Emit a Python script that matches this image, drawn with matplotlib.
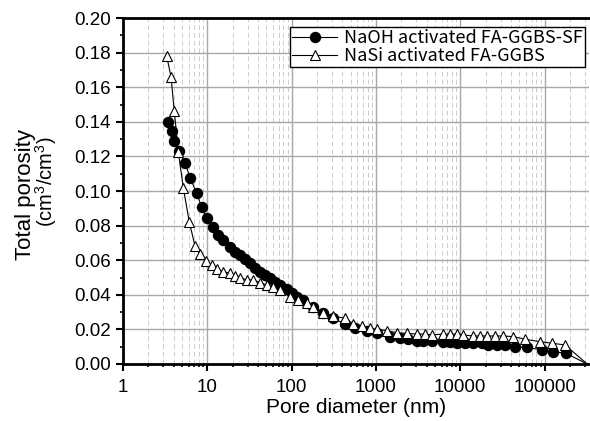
import matplotlib
matplotlib.use('Agg')
import matplotlib.pyplot as plt
from matplotlib.ticker import LogLocator, MultipleLocator, FixedLocator, FixedFormatter

# NaOH activated FA-GGBS-SF (filled circles)
naoh_d = [3.39, 3.78, 4.06, 4.62, 5.44, 6.24, 7.48, 8.58, 9.84, 11.6, 13.5, 15.5,
          18.6, 21.3, 24.4, 28.0, 32.0, 36.8, 42.2, 48.3, 55.4, 63.5, 72.8, 87.4,
          100, 117, 138, 181, 238, 313, 430, 565, 778, 1020, 1470, 1930, 2430,
          3050, 3650, 4590, 6310, 7570, 9080, 11400, 14300, 18000, 21600, 27100,
          34000, 44700, 61500, 92700, 127000, 179000, 320000]
naoh_p = [0.140, 0.135, 0.129, 0.123, 0.1164, 0.1077, 0.0987, 0.0906, 0.0845,
          0.0794, 0.0746, 0.0717, 0.0678, 0.0649, 0.0630, 0.0605, 0.0582, 0.0553,
          0.0534, 0.0514, 0.0495, 0.0476, 0.0457, 0.0432, 0.0412, 0.0390, 0.0370,
          0.0330, 0.0295, 0.0264, 0.0231, 0.0210, 0.0193, 0.0177, 0.0158, 0.0149,
          0.0143, 0.0135, 0.0135, 0.0133, 0.0129, 0.0129, 0.0123, 0.0123, 0.0120,
          0.0120, 0.0110, 0.0110, 0.0110, 0.0100, 0.0096, 0.0081, 0.0071, 0.0062,
          0.0]

# NaSi activated FA-GGBS (open triangles)
nasi_d = [3.30, 3.71, 4.06, 4.53, 5.20, 6.12, 7.14, 8.19, 9.57, 11.3, 12.9, 15.5,
          18.6, 21.5, 24.4, 29.3, 35.2, 42.2, 50.6, 60.7, 72.8, 95.7, 120, 151,
          181, 238, 313, 430, 540, 678, 851, 1020, 1340, 1770, 2320, 3050, 3820,
          4590, 6200, 7570, 9080, 10900, 14100, 17200, 20600, 25900, 32500, 42700,
          58700, 88500, 122000, 175000, 320000]
nasi_p = [0.178, 0.166, 0.146, 0.1227, 0.1015, 0.0820, 0.0682, 0.0636, 0.0595,
          0.0572, 0.0549, 0.0534, 0.0524, 0.0510, 0.0499, 0.0486, 0.0486, 0.0470,
          0.0457, 0.0443, 0.0428, 0.0389, 0.0370, 0.0351, 0.0331, 0.0297, 0.0277,
          0.0264, 0.0231, 0.0220, 0.0206, 0.0200, 0.0193, 0.0181, 0.0177, 0.0173,
          0.0173, 0.0168, 0.0173, 0.0173, 0.0173, 0.0168, 0.0162, 0.0162, 0.0162,
          0.0162, 0.0162, 0.0158, 0.0143, 0.0129, 0.0120, 0.0110, 0.0]

xticks = [1, 10, 100, 1000, 10000, 100000]
xticklabels = ['1', '10', '100', '1000', '10000', '100000']

plt.rcParams['font.family'] = ['Liberation Sans', 'DejaVu Sans']
plt.rcParams['mathtext.fontset'] = 'custom'
plt.rcParams['mathtext.rm'] = 'Liberation Sans'

fig = plt.figure(figsize=(5.9, 4.21), dpi=100)
ax = fig.add_axes([0.2085, 0.1354, 0.7905, 0.8216])

ax.plot(naoh_d, naoh_p, '-o', color='black', markerfacecolor='black',
        markeredgecolor='black', markersize=7.2, linewidth=0.8,
        markevery=list(range(len(naoh_d) - 1)), zorder=3,
        label='NaOH activated FA-GGBS-SF')
ax.plot(nasi_d, nasi_p, '-^', color='black', markerfacecolor='white',
        markeredgecolor='black', markersize=7.8, markeredgewidth=0.8, linewidth=0.8,
        markevery=list(range(len(nasi_d) - 1)), zorder=4,
        label='NaSi activated FA-GGBS')

ax.set_xscale('log')
ax.set_xlim(1, 3.4e5)
ax.set_ylim(0, 0.20)

ax.xaxis.set_major_locator(FixedLocator(xticks))
ax.xaxis.set_major_formatter(FixedFormatter(xticklabels))
ax.xaxis.set_minor_locator(LogLocator(base=10, subs=range(2, 10), numticks=20))
ax.yaxis.set_major_locator(MultipleLocator(0.02))
ax.yaxis.set_minor_locator(MultipleLocator(0.01))
ax.yaxis.set_major_formatter(plt.FuncFormatter(lambda v, p: f'{v:.2f}'))

ax.grid(which='major', color='#a8a8a8', linewidth=1.0, linestyle='-')
ax.grid(which='minor', axis='x', color='#cccccc', linewidth=0.7, linestyle=(0, (5, 3)))
ax.set_axisbelow(True)

for s in ['left', 'bottom', 'top']:
    ax.spines[s].set_linewidth(2.0)
ax.spines['right'].set_visible(False)

ax.tick_params(which='major', direction='out', length=5, width=1.5,
               labelsize=13.5, top=False, right=False)
ax.tick_params(axis='x', which='major', pad=6)
ax.tick_params(axis='y', which='major', pad=4)
ax.tick_params(which='minor', direction='out', length=2.5, width=1.2,
               top=False, right=False)

ax.set_xlabel('Pore diameter (nm)', fontsize=15, labelpad=1)

# two-line y label
fig.text(25 / 590, 1 - 194 / 421, 'Total porosity', rotation=90, fontsize=16,
         ha='center', va='center')
fig.text(46 / 590, 1 - 182 / 421, '(cm$^3$/cm$^3$)', rotation=90, fontsize=14.5,
         ha='center', va='center')

leg = ax.legend(loc='upper right', bbox_to_anchor=(0.991, 0.974),
                frameon=True, fancybox=False, edgecolor='black', framealpha=1,
                prop={'family': ['Noto Sans CJK SC', 'DejaVu Sans'], 'size': 13},
                handlelength=2.5, borderpad=0.12, labelspacing=0.0,
                handletextpad=0.4, borderaxespad=0)
leg.get_frame().set_linewidth(1.0)

fig.savefig('out.png', dpi=100)
